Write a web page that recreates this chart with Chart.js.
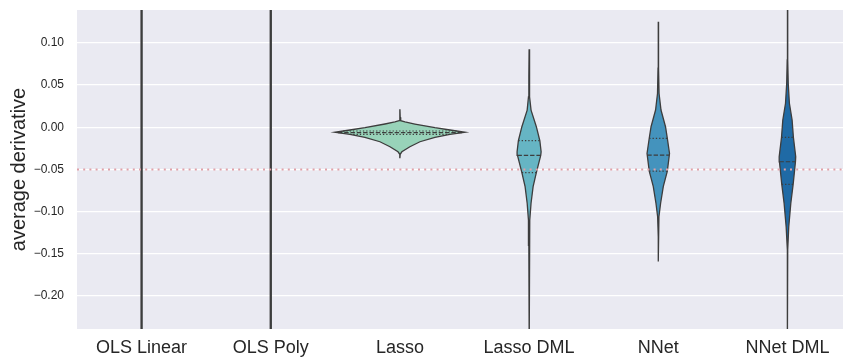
<!DOCTYPE html>
<html>
<head>
<meta charset="utf-8">
<script src="https://cdn.jsdelivr.net/npm/chart.js@4/dist/chart.umd.min.js"></script>
<style>
  html, body { margin: 0; padding: 0; background: #fff; }
</style>
</head>
<body>
<canvas id="violins" width="843" height="360"></canvas>
<script>
// categories and axis ticks
const categories = ['OLS Linear', 'OLS Poly', 'Lasso', 'Lasso DML', 'NNet', 'NNet DML']
const y_ticks = [0.10, 0.05, 0.00, -0.05, -0.10, -0.15, -0.20]
const y_tick_labels = ['0.10', '0.05', '0.00', '\u22120.05', '\u22120.10', '\u22120.15', '\u22120.20']
const reference_value = -0.05

// violin profiles: value along y, half width of the density (category units)
const ols_linear_values = [0.20, -0.30]
const ols_linear_widths = [0.004, 0.004]
const ols_poly_values = [0.20, -0.30]
const ols_poly_widths = [0.004, 0.004]
const lasso_values = [0.0213, 0.012, 0.0078, 0.0063, 0.0039, -0.0005, -0.0032, -0.0059, -0.0083, -0.0119, -0.0171, -0.023, -0.029, -0.032, -0.036]
const lasso_widths = [0, 0.002, 0.006, 0.039, 0.116, 0.271, 0.387, 0.503, 0.387, 0.271, 0.155, 0.077, 0.015, 0.002, 0]
const lasso_dml_values = [0.0925, 0.06, 0.036, 0.0204, 0.0007, -0.0159, -0.029, -0.0332, -0.0538, -0.0704, -0.090, -0.110, -0.14, -0.26]
const lasso_dml_widths = [0, 0.002, 0.005, 0.015, 0.056, 0.083, 0.093, 0.090, 0.056, 0.031, 0.015, 0.005, 0.002, 0]
const nnet_values = [0.1252, 0.07, 0.040, 0.0205, 0.0007, -0.013, -0.031, -0.052, -0.070, -0.090, -0.106, -0.13, -0.159]
const nnet_widths = [0, 0.002, 0.006, 0.021, 0.056, 0.070, 0.087, 0.070, 0.039, 0.018, 0.005, 0.002, 0]
const nnet_dml_values = [0.16, 0.08, 0.052, 0.0285, 0.0087, -0.0119, -0.0348, -0.0408, -0.0676, -0.090, -0.118, -0.1455, -0.26]
const nnet_dml_widths = [0, 0.002, 0.006, 0.015, 0.036, 0.046, 0.064, 0.062, 0.044, 0.026, 0.010, 0.002, 0]

// quartiles (q1, median, q3) and the half width of the violin there
const lasso_quartiles = [-0.0083, -0.0064, -0.0044]
const lasso_quartile_widths = [0.387, 0.48, 0.44]
const lasso_dml_quartiles = [-0.0538, -0.0332, -0.0159]
const lasso_dml_quartile_widths = [0.056, 0.090, 0.083]
const nnet_quartiles = [-0.052, -0.033, -0.013]
const nnet_quartile_widths = [0.070, 0.085, 0.070]
const nnet_dml_quartiles = [-0.0676, -0.0408, -0.0119]
const nnet_dml_quartile_widths = [0.044, 0.062, 0.046]

const colors = ['#7fb9c8', '#5fa6c4', '#98d3b9', '#66b5c4', '#4493bd', '#1f6aa5']
const edge = '#3d3d3d'

function violin_points(center, values, widths) {
    var right = []
    var left = []
    for (let k = 0; k < values.length; k++) {
        right.push({x: center + widths[k], y: values[k]})
        left.push({x: center - widths[k], y: values[k]})
    }
    var pts = right.concat(left.reverse())
    pts.push(pts[0])
    return pts
}

const profiles = [
    [ols_linear_values, ols_linear_widths],
    [ols_poly_values, ols_poly_widths],
    [lasso_values, lasso_widths],
    [lasso_dml_values, lasso_dml_widths],
    [nnet_values, nnet_widths],
    [nnet_dml_values, nnet_dml_widths],
]
const quartiles = [
    null, null,
    [lasso_quartiles, lasso_quartile_widths],
    [lasso_dml_quartiles, lasso_dml_quartile_widths],
    [nnet_quartiles, nnet_quartile_widths],
    [nnet_dml_quartiles, nnet_dml_quartile_widths],
]

const x_min = -0.5
const x_max = 5.43

var datasets = []
profiles.forEach((p, i) => {
    datasets.push({
        data: violin_points(i, p[0], p[1]),
        backgroundColor: colors[i],
        borderColor: edge,
        borderWidth: 1.3,
        fill: 'shape',
        pointRadius: 0,
        tension: 0,
        order: 2
    })
})
quartiles.forEach((q, i) => {
    if (!q) return
    for (let k = 0; k < 3; k++) {
        datasets.push({
            data: [{x: i - q[1][k], y: q[0][k]}, {x: i + q[1][k], y: q[0][k]}],
            borderColor: edge,
            borderWidth: 1.2,
            borderDash: k == 1 ? [4.4, 1.9] : [1.3, 2],
            fill: false,
            pointRadius: 0,
            order: 1
        })
    }
})
datasets.push({
    data: [{x: x_min, y: reference_value}, {x: x_max, y: reference_value}],
    borderColor: '#e0a0a8',
    borderWidth: 2,
    borderDash: [2, 4.2],
    fill: false,
    pointRadius: 0,
    order: 0
})

const plot_background = {
    id: 'plot_background',
    beforeDraw(chart) {
        const {ctx, chartArea} = chart
        ctx.save()
        ctx.fillStyle = '#eaeaf2'
        ctx.fillRect(chartArea.left, chartArea.top, chartArea.right - chartArea.left, chartArea.bottom - chartArea.top)
        ctx.restore()
    }
}

const ctx = document.getElementById('violins').getContext('2d')
const myChart = new Chart(ctx, {
    type: 'line',
    data: { datasets: datasets },
    plugins: [plot_background],
    options: {
        responsive: false,
        animation: false,
        layout: { padding: { top: 10, right: 0, left: 0, bottom: 0 } },
        plugins: { legend: { display: false }, tooltip: { enabled: false } },
        scales: {
            x: {
                type: 'linear',
                min: x_min,
                max: x_max,
                grid: { display: false, drawTicks: false },
                border: { display: false },
                afterBuildTicks: scale => { scale.ticks = categories.map((c, i) => ({value: i})) },
                afterFit: scale => {
                    scale.height = 31
                    scale.paddingLeft = 0
                    scale.paddingRight = 0
                },
                ticks: {
                    callback: value => categories[value],
                    font: { family: '"Liberation Sans", Arial, sans-serif', size: 18 },
                    color: '#262626',
                    padding: 8,
                    maxRotation: 0,
                    autoSkip: false
                }
            },
            y: {
                type: 'linear',
                min: -0.239,
                max: 0.139,
                grid: { color: '#ffffff', lineWidth: 1.3, drawTicks: false },
                border: { display: false },
                afterBuildTicks: scale => { scale.ticks = y_ticks.map(v => ({value: v})) },
                afterFit: scale => {
                    scale.width = 77
                    scale.paddingTop = 0
                    scale.paddingBottom = 0
                },
                title: {
                    display: true,
                    text: 'average derivative',
                    font: { family: '"Liberation Sans", Arial, sans-serif', size: 20 },
                    color: '#262626',
                    padding: { top: 7, bottom: 0 }
                },
                ticks: {
                    callback: (value, index) => y_tick_labels[index],
                    font: { family: '"Liberation Sans", Arial, sans-serif', size: 12 },
                    color: '#262626',
                    padding: 13,
                    autoSkip: false
                }
            }
        }
    }
})
</script>
</body>
</html>
